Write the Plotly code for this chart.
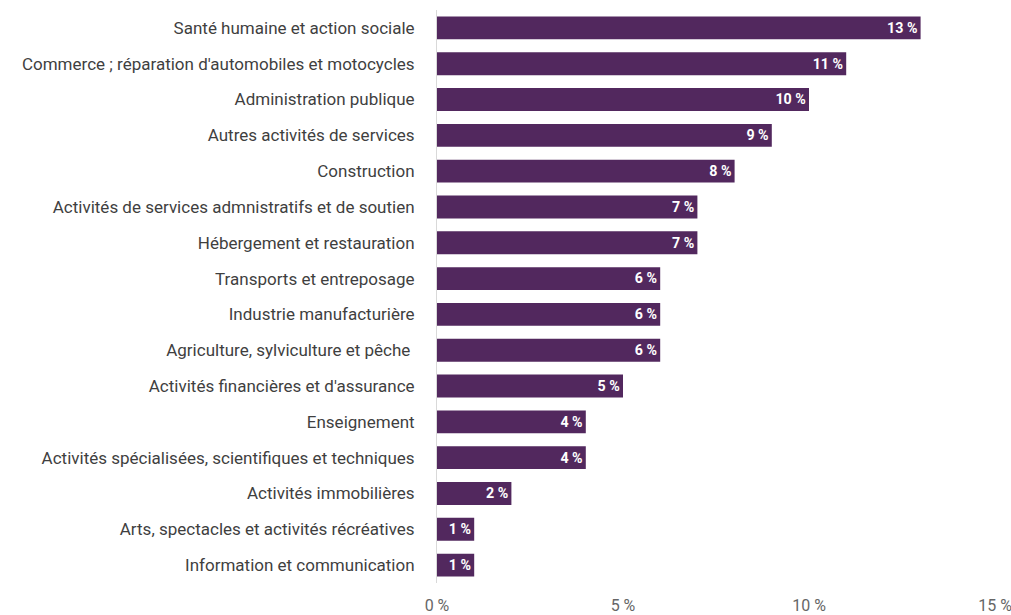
import plotly.graph_objects as go

categories = [
    "Santé humaine et action sociale",
    "Commerce ; réparation d'automobiles et motocycles",
    "Administration publique",
    "Autres activités de services",
    "Construction",
    "Activités de services admnistratifs et de soutien",
    "Hébergement et restauration",
    "Transports et entreposage",
    "Industrie manufacturière",
    "Agriculture, sylviculture et pêche ",
    "Activités financières et d'assurance",
    "Enseignement",
    "Activités spécialisées, scientifiques et techniques",
    "Activités immobilières",
    "Arts, spectacles et activités récréatives",
    "Information et communication",
]
values = [13, 11, 10, 9, 8, 7, 7, 6, 6, 6, 5, 4, 4, 2, 1, 1]
tick_vals = [0, 5, 10, 15]
tick_text = ["0 %", "5 %", "10 %", "15 %"]

fig = go.Figure(go.Bar(
    y=categories,
    x=values,
    orientation="h",
    marker=dict(color="#52285E", line=dict(width=0)),
    width=0.64,
    text=[f"{v} %" for v in values],
    textposition="inside",
    insidetextanchor="end",
    textangle=0,
    textfont=dict(color="white", size=16, family="Roboto"),
    texttemplate="<b>%{text}</b>",
    hoverinfo="skip",
))

fig.update_layout(
    width=1011,
    height=615,
    margin=dict(l=437, r=16, t=10, b=32),
    plot_bgcolor="white",
    paper_bgcolor="white",
    font=dict(family="Roboto", color="#333333"),
    showlegend=False,
    bargap=0.36,
    uniformtext=dict(minsize=10, mode="show"),
)
fig.update_xaxes(
    range=[0, 15],
    tickvals=tick_vals,
    ticktext=tick_text,
    showgrid=False,
    zeroline=False,
    showline=False,
    automargin=False,
    ticklabeloverflow="allow",
    ticklabelstandoff=11,
    tickfont=dict(size=16, color="#666666", family="Roboto"),
    ticks="",
)
fig.update_yaxes(
    autorange="reversed",
    showgrid=False,
    showline=True,
    linecolor="#d9d9d9",
    linewidth=1,
    ticks="",
    automargin=False,
    ticklabelstandoff=18,
    tickfont=dict(size=17, color="#3f3f3f", family="Roboto"),
)

fig.write_html(
    "out.html",
    config={"displayModeBar": False},
    post_script="document.body.style.margin='0';document.body.style.overflow='hidden';",
)
